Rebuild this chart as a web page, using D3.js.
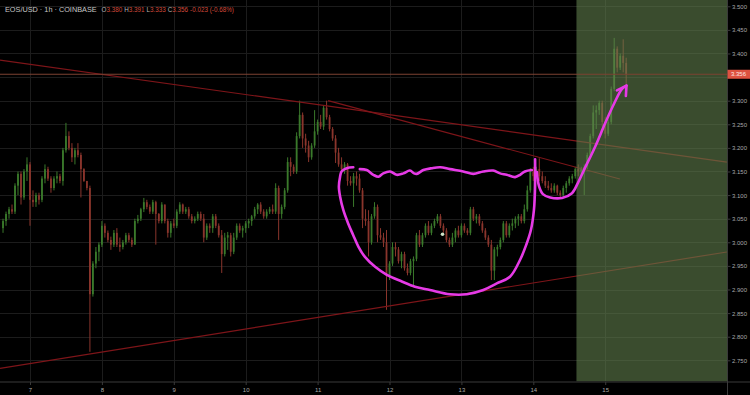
<!DOCTYPE html>
<html>
<head>
<meta charset="utf-8">
<script src="https://cdn.jsdelivr.net/npm/d3@7"></script>
<style>
  html, body { margin: 0; padding: 0; background: #000; }
  svg { display: block; font-family: 'Liberation Sans', Arial, sans-serif; }
</style>
</head>
<body>
<svg id="chart" width="750" height="395"></svg>
<script>
const DAY0 = Date.UTC(2020, 4, 7) // the "7" on the time axis
const FIRST_HOUR = -9 // first candle, hours after DAY0

// hourly candles [open, high, low, close]
const candles = [
  [3.03,3.05,3.02,3.045],[3.045,3.065,3.035,3.06],[3.06,3.075,3.05,3.07],[3.07,3.08,3.06,3.065],
  [3.065,3.125,3.06,3.12],[3.12,3.15,3.10,3.145],[3.145,3.15,3.08,3.095],[3.095,3.155,3.09,3.15],
  [3.15,3.18,3.13,3.165],
  // day 7
  [3.165,3.17,3.035,3.09],[3.09,3.11,3.075,3.085],[3.085,3.105,3.075,3.10],[3.10,3.105,3.08,3.09],
  [3.09,3.14,3.085,3.135],[3.135,3.165,3.125,3.155],[3.155,3.16,3.13,3.135],[3.135,3.14,3.105,3.115],
  [3.115,3.14,3.11,3.135],[3.135,3.15,3.125,3.14],[3.14,3.145,3.125,3.13],[3.13,3.20,3.12,3.195],
  [3.195,3.253,3.19,3.225],[3.225,3.235,3.195,3.20],[3.20,3.21,3.17,3.18],[3.18,3.20,3.165,3.195],
  [3.195,3.21,3.18,3.185],[3.185,3.19,3.095,3.155],[3.155,3.157,3.128,3.13],[3.13,3.13,3.11,3.115],
  [3.115,3.12,2.768,2.89],[2.89,2.96,2.885,2.955],[2.955,2.99,2.945,2.98],[2.98,3.00,2.96,2.995],
  // day 8
  [2.995,3.045,2.99,3.035],[3.035,3.04,3.01,3.02],[3.02,3.025,3.00,3.005],[3.005,3.012,2.984,2.995],
  [2.995,3.026,2.99,3.02],[3.02,3.03,2.99,2.995],[2.995,3.01,2.98,2.99],[2.99,3.005,2.985,3.00],
  [3.00,3.02,2.995,3.015],[3.015,3.02,3.00,3.005],[3.005,3.01,2.99,2.995],[2.995,3.05,2.995,3.045],
  [3.045,3.058,3.04,3.05],[3.05,3.073,3.045,3.07],[3.07,3.094,3.064,3.085],[3.085,3.09,3.07,3.075],
  [3.075,3.08,3.06,3.065],[3.065,3.09,3.06,3.085],[3.085,3.088,2.995,3.06],[3.06,3.062,3.04,3.045],
  [3.045,3.085,3.04,3.08],[3.08,3.08,3.04,3.045],[3.045,3.05,3.01,3.02],[3.02,3.045,3.01,3.04],
  // day 9
  [3.04,3.05,3.03,3.035],[3.035,3.07,3.03,3.065],[3.065,3.085,3.06,3.08],[3.08,3.082,3.06,3.065],
  [3.065,3.075,3.06,3.07],[3.07,3.075,3.05,3.055],[3.055,3.06,3.04,3.045],[3.045,3.055,3.04,3.05],
  [3.05,3.065,3.045,3.06],[3.06,3.065,3.045,3.05],[3.05,3.06,3.00,3.01],[3.01,3.04,3.005,3.035],
  [3.035,3.04,3.02,3.03],[3.03,3.06,3.02,3.055],[3.055,3.06,3.03,3.035],[3.035,3.04,3.01,3.015],
  [3.015,3.026,2.935,2.975],[2.975,3.02,2.97,3.01],[3.01,3.022,2.984,3.015],[3.015,3.02,2.97,2.98],
  [2.98,3.02,2.975,3.01],[3.01,3.04,3.005,3.035],[3.035,3.04,3.02,3.025],[3.025,3.035,3.01,3.03],
  // day 10
  [3.03,3.045,3.02,3.04],[3.04,3.05,3.03,3.045],[3.045,3.058,3.035,3.055],[3.055,3.075,3.05,3.07],
  [3.07,3.083,3.06,3.08],[3.08,3.085,3.06,3.065],[3.065,3.07,3.05,3.055],[3.055,3.07,3.05,3.065],
  [3.065,3.075,3.06,3.07],[3.07,3.08,3.06,3.065],[3.065,3.125,3.06,3.115],[3.115,3.12,3.005,3.06],
  [3.06,3.08,3.05,3.075],[3.075,3.115,3.07,3.11],[3.11,3.18,3.105,3.17],[3.17,3.18,3.14,3.16],
  [3.16,3.165,3.145,3.15],[3.15,3.233,3.145,3.225],[3.225,3.30,3.22,3.27],[3.27,3.275,3.20,3.22],
  [3.22,3.23,3.19,3.205],[3.205,3.215,3.17,3.18],[3.18,3.21,3.175,3.205],[3.205,3.28,3.20,3.235],
  // day 11
  [3.235,3.26,3.228,3.255],[3.255,3.27,3.24,3.245],[3.245,3.29,3.238,3.285],[3.285,3.30,3.26,3.265],
  [3.265,3.27,3.235,3.24],[3.24,3.244,3.215,3.22],[3.22,3.227,3.168,3.19],[3.19,3.20,3.16,3.165],
  [3.165,3.18,3.15,3.155],[3.155,3.17,3.145,3.165],[3.165,3.168,3.12,3.13],[3.13,3.14,3.12,3.125],
  [3.125,3.147,3.075,3.14],[3.14,3.15,3.12,3.135],[3.135,3.145,3.105,3.11],[3.11,3.115,3.03,3.05],
  [3.05,3.07,3.035,3.045],[3.045,3.068,2.97,3.00],[3.00,3.06,2.995,3.055],[3.055,3.085,3.05,3.075],
  [3.075,3.08,3.00,3.015],[3.015,3.03,3.005,3.01],[3.01,3.02,2.99,3.00],[3.00,3.026,2.857,2.93],
  // day 12
  [2.93,2.96,2.92,2.955],[2.955,3.00,2.95,2.99],[2.99,3.00,2.97,2.985],[2.985,2.99,2.955,2.96],
  [2.96,2.98,2.945,2.975],[2.975,2.98,2.94,2.945],[2.945,2.955,2.93,2.935],[2.935,2.965,2.93,2.96],
  [2.96,2.97,2.905,2.965],[2.965,3.02,2.96,3.015],[3.015,3.026,2.99,2.995],[2.995,3.02,2.99,3.015],
  [3.015,3.04,3.01,3.035],[3.035,3.045,3.015,3.02],[3.02,3.04,3.015,3.035],[3.035,3.05,3.03,3.045],
  [3.045,3.06,3.04,3.055],[3.055,3.06,3.03,3.035],[3.035,3.04,3.02,3.025],[3.025,3.03,3.00,3.005],
  [3.005,3.01,2.99,2.995],[2.995,3.02,2.99,3.01],[3.01,3.03,3.00,3.025],[3.025,3.035,3.01,3.015],
  // day 13
  [3.015,3.04,3.01,3.035],[3.035,3.04,3.02,3.025],[3.025,3.03,3.015,3.02],[3.02,3.075,3.015,3.07],
  [3.07,3.075,3.045,3.05],[3.05,3.06,3.04,3.055],[3.055,3.06,3.035,3.04],[3.04,3.045,3.02,3.025],
  [3.025,3.03,3.005,3.01],[3.01,3.015,2.99,2.995],[2.995,3.005,2.92,2.94],[2.94,2.99,2.92,2.985],
  [2.985,2.995,2.97,2.99],[2.99,3.01,2.985,3.005],[3.005,3.045,3.00,3.04],[3.04,3.045,3.01,3.015],
  [3.015,3.04,3.01,3.035],[3.035,3.05,3.025,3.04],[3.04,3.055,3.03,3.05],[3.05,3.06,3.035,3.055],
  [3.055,3.06,3.04,3.045],[3.045,3.08,3.04,3.07],[3.07,3.12,3.065,3.11],[3.11,3.157,3.105,3.15],
  // day 14
  [3.15,3.16,3.13,3.14],[3.14,3.16,3.135,3.155],[3.155,3.178,3.13,3.14],[3.14,3.15,3.125,3.13],
  [3.13,3.14,3.115,3.12],[3.12,3.13,3.11,3.115],[3.115,3.125,3.105,3.11],[3.11,3.125,3.105,3.12],
  [3.12,3.122,3.10,3.105],[3.105,3.11,3.095,3.10],[3.10,3.12,3.095,3.115],[3.115,3.13,3.105,3.125],
  [3.125,3.14,3.12,3.135],[3.135,3.145,3.125,3.14],[3.14,3.16,3.135,3.155],[3.155,3.165,3.14,3.15],
  [3.15,3.16,3.14,3.155],[3.155,3.165,3.10,3.16],[3.16,3.19,3.155,3.185],[3.185,3.23,3.18,3.225],
  [3.225,3.29,3.22,3.275],[3.275,3.29,3.24,3.28],[3.28,3.30,3.27,3.295],[3.295,3.30,3.245,3.255],
  // day 15
  [3.255,3.265,3.22,3.23],[3.23,3.26,3.225,3.255],[3.255,3.33,3.25,3.325],[3.325,3.433,3.32,3.41],
  [3.41,3.415,3.36,3.37],[3.37,3.40,3.365,3.395],[3.395,3.43,3.36,3.38],[3.38,3.391,3.333,3.356]
]

const priceTicks = [2.75, 2.8, 2.85, 2.9, 2.95, 3.0, 3.05, 3.1, 3.15, 3.2, 3.25, 3.3, 3.35, 3.4, 3.45, 3.5]
const dayTicks = [7, 8, 9, 10, 11, 12, 13, 14, 15]
const lastPrice = 3.356

const titleText = 'EOS/USD · 1h · COINBASE'
const ohlcLabels = ['O', 'H', 'L', 'C']
const ohlcValues = ['3.380', '3.391', '3.333', '3.356']
const changeText = '-0.023 (-0.68%)'

// drawn objects, [hours after DAY0, price]
const upperTrend = [[-10, 3.386], [232.6, 3.170]]
const innerTrend = [[99.5, 3.300], [196.9, 3.134]]
const lowerTrend = [[-10, 2.733], [232.6, 2.9795]]
const shadeFromHour = 182.4

const cupPath = [
  [107.9, 3.159], [105.7, 3.157], [104.0, 3.150], [103.5, 3.139], [103.1, 3.118], [103.5, 3.097],
  [104.6, 3.068], [106.2, 3.040], [107.9, 3.015], [109.6, 2.991], [111.8, 2.969], [115.2, 2.948],
  [119.1, 2.931], [124.1, 2.917], [128.5, 2.906], [133.5, 2.899], [140.2, 2.890], [145.8, 2.890],
  [151.3, 2.899], [155.8, 2.913], [160.2, 2.927], [163.6, 2.963], [165.6, 2.994], [167.2, 3.026],
  [168.2, 3.068], [168.6, 3.121], [168.6, 3.176]
]
const lidPath = [
  [110.1, 3.155], [112.4, 3.153], [114.6, 3.143], [116.3, 3.139], [117.9, 3.146], [120.2, 3.150],
  [122.4, 3.143], [124.6, 3.146], [126.8, 3.152], [128.2, 3.146], [129.1, 3.145], [131.3, 3.153],
  [134.1, 3.157], [136.9, 3.159], [140.2, 3.155], [144.6, 3.150], [148.0, 3.145], [151.3, 3.150],
  [154.6, 3.152], [156.9, 3.146], [159.1, 3.143], [161.9, 3.138], [163.6, 3.143], [165.2, 3.150],
  [167.5, 3.153]
]
const handlePath = [
  [169.2, 3.149], [169.9, 3.119], [171.2, 3.102], [173.6, 3.095], [177.6, 3.094], [180.9, 3.104],
  [182.9, 3.126], [184.9, 3.153], [188.6, 3.202], [191.9, 3.251], [194.9, 3.293], [197.6, 3.325],
  [199.1, 3.332]
]
const arrowHead = [[195.9, 3.322], [199.1, 3.332], [198.9, 3.310]]
const markerDot = [137.7, 3.017]

const W = 750, H = 395
const plotW = 727, plotH = 381.5

const hourDate = (h) => new Date(DAY0 + h * 3600e3)

const svg = d3.select('#chart')
svg.append('rect').attr('width', W).attr('height', H).attr('fill', '#000')

const x = d3.scaleUtc().domain([hourDate(-10.01), hourDate(232.65)]).range([0, plotW])
const y = d3.scaleLinear().domain([2.7051, 3.5133]).range([plotH, 0])
const px = (d) => x(hourDate(d[0]))
const py = (d) => y(d[1])

svg.append('defs').append('clipPath').attr('id', 'plotClip')
  .append('rect').attr('width', plotW).attr('height', plotH)

const plot = svg.append('g').attr('clip-path', 'url(#plotClip)')

// grid
plot.append('g').selectAll('line').data(priceTicks).join('line')
  .attr('x1', 0).attr('x2', plotW)
  .attr('y1', (d) => Math.round(y(d)) + 0.5).attr('y2', (d) => Math.round(y(d)) + 0.5)
  .attr('stroke', '#1c1c1c')
plot.append('g').selectAll('line').data(dayTicks).join('line')
  .attr('x1', (d) => Math.round(x(hourDate((d - 7) * 24))) + 0.5)
  .attr('x2', (d) => Math.round(x(hourDate((d - 7) * 24))) + 0.5)
  .attr('y1', 0).attr('y2', plotH)
  .attr('stroke', '#1c1c1c')

// candles
const UP = '#3a792b', DOWN = '#8a352c'
const cg = plot.append('g')
const bars = cg.selectAll('g').data(candles).join('g')
  .attr('transform', (d, i) => `translate(${x(hourDate(FIRST_HOUR + i))},0)`)
bars.append('line')
  .attr('y1', (d) => y(d[1])).attr('y2', (d) => y(d[2]))
  .attr('stroke', (d) => (d[3] >= d[0] ? UP : DOWN)).attr('stroke-width', 1)
bars.append('rect')
  .attr('x', -0.9).attr('width', 1.8)
  .attr('y', (d) => y(Math.max(d[0], d[3])))
  .attr('height', (d) => Math.max(1, Math.abs(y(d[0]) - y(d[3]))))
  .attr('fill', (d) => (d[3] >= d[0] ? UP : DOWN))

// trend lines
const seg = d3.line().x(px).y(py)
plot.append('g').selectAll('path').data([upperTrend, innerTrend, lowerTrend]).join('path')
  .attr('d', seg).attr('fill', 'none').attr('stroke', '#7e1519').attr('stroke-width', 1.2)

// shaded zone
plot.append('rect')
  .attr('x', x(hourDate(shadeFromHour))).attr('y', 0)
  .attr('width', plotW - x(hourDate(shadeFromHour))).attr('height', plotH)
  .attr('fill', 'rgb(98,130,78)').attr('fill-opacity', 0.59)

// last price line
plot.append('line')
  .attr('x1', 0).attr('x2', plotW)
  .attr('y1', y(lastPrice)).attr('y2', y(lastPrice))
  .attr('stroke', '#7c4232').attr('stroke-width', 1)

// hand drawing
const smooth = d3.line().x(px).y(py).curve(d3.curveCatmullRom)
const pen = plot.append('g').attr('fill', 'none').attr('stroke', '#e63ae6')
  .attr('stroke-width', 2.6).attr('stroke-linecap', 'round').attr('stroke-linejoin', 'round')
pen.selectAll('path').data([cupPath, lidPath, handlePath]).join('path').attr('d', smooth)
pen.append('path').attr('d', seg(arrowHead))

plot.append('circle').attr('cx', px(markerDot)).attr('cy', py(markerDot)).attr('r', 1.8)
  .attr('fill', '#cfe3c8')

// axes
svg.append('line').attr('x1', plotW + 0.5).attr('x2', plotW + 0.5).attr('y1', 0).attr('y2', H)
  .attr('stroke', '#3a3a3a')
svg.append('line').attr('x1', 0).attr('x2', W).attr('y1', plotH + 0.5).attr('y2', plotH + 0.5)
  .attr('stroke', '#3a3a3a')

// the price badge hides the tick label it sits on
const visibleTicks = priceTicks.filter((d) => Math.abs(y(d) - y(lastPrice)) > 6)
const yAxis = svg.append('g').attr('transform', `translate(${plotW + 0.5},0)`)
  .call(d3.axisRight(y).tickValues(visibleTicks).tickFormat(d3.format('.3f')).tickSize(3).tickPadding(1.5))
yAxis.select('.domain').remove()
yAxis.selectAll('line').attr('stroke', '#3a3a3a')
yAxis.selectAll('text').attr('fill', '#a8a8a8').attr('font-size', 6).attr('font-family', null)

const xAxis = svg.append('g').attr('transform', `translate(0,${plotH + 0.5})`)
  .call(d3.axisBottom(x).tickValues(dayTicks.map((d) => hourDate((d - 7) * 24)))
    .tickFormat(d3.utcFormat('%-d')).tickSize(3).tickPadding(3))
xAxis.select('.domain').remove()
xAxis.selectAll('line').attr('stroke', '#3a3a3a')
xAxis.selectAll('text').attr('fill', '#a8a8a8').attr('font-size', 6).attr('font-family', null)

// last price badge
svg.append('rect').attr('x', plotW + 0.5).attr('y', y(lastPrice) - 4.5)
  .attr('width', W - plotW).attr('height', 9).attr('fill', '#de5240')
svg.append('text').attr('x', plotW + 4).attr('y', y(lastPrice)).attr('dy', '0.35em')
  .attr('fill', '#ffe6e2').attr('font-size', 6).text(d3.format('.3f')(lastPrice))

// header
svg.append('text').attr('x', 5).attr('y', 11.5).attr('fill', '#c8c8c8').attr('font-size', 7.3)
  .text(titleText)
const ohlc = svg.append('text').attr('x', 101.5).attr('y', 11.5).attr('font-size', 6.3)
ohlcLabels.forEach((lab, i) => {
  ohlc.append('tspan').attr('fill', '#b4b4b4').attr('dx', i ? 2 : 0).text(lab)
  ohlc.append('tspan').attr('fill', '#d2493a').text(ohlcValues[i])
})
ohlc.append('tspan').attr('fill', '#d2493a').attr('dx', 2).text(changeText)
</script>
</body>
</html>
